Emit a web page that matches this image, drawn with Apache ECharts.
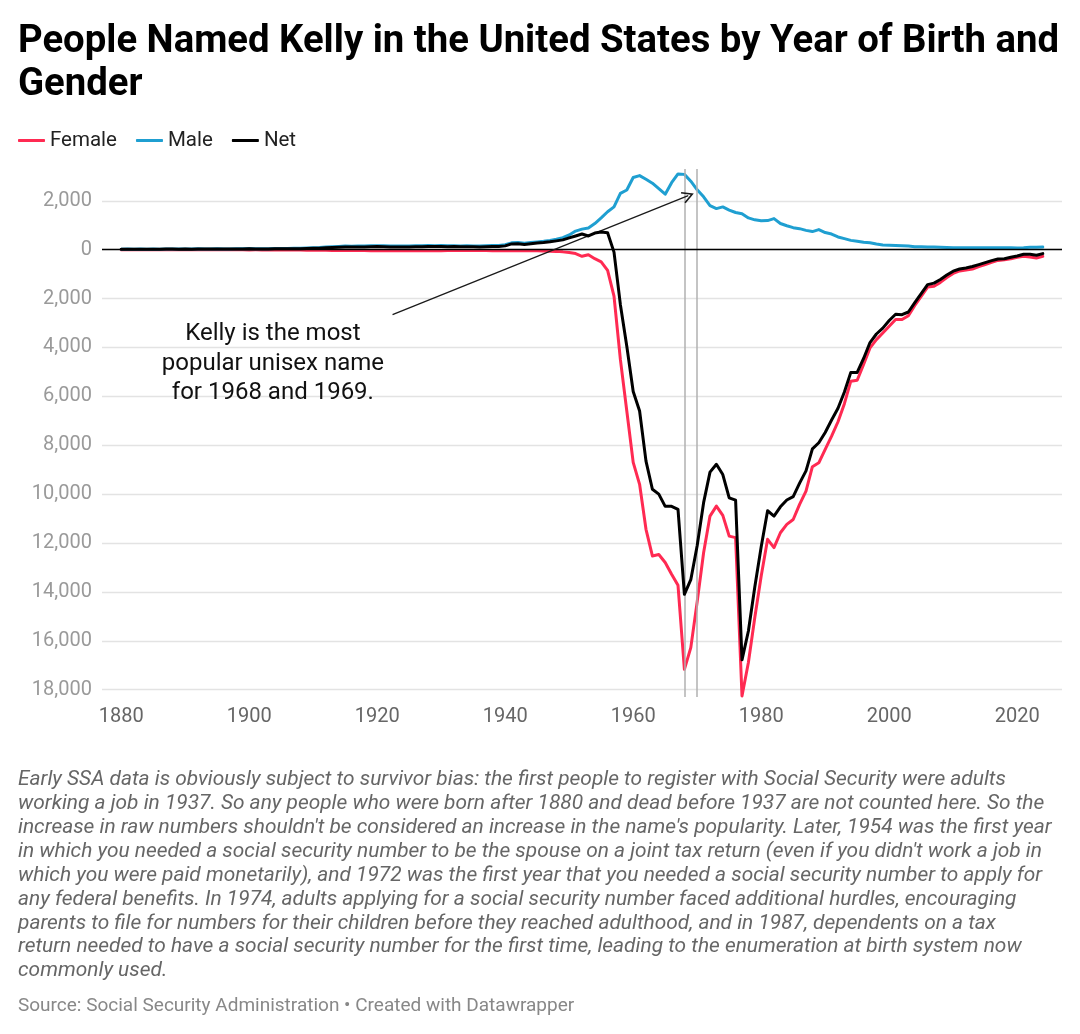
<!DOCTYPE HTML>
<html>
    <head>
        <meta charset="UTF-8">
        <title>People Named Kelly</title>
        <style>
            html,body{margin:0;padding:0;width:100%;height:100%;background:#fff;}
            #wrap{width:1080px;height:1034px;}
        </style>
    </head>
    <body>
        <div id="wrap"></div>

        <script src="https://cdn.jsdelivr.net/npm/echarts@6/dist/echarts.min.js"></script>
        <script>
            // values, 1880 .. 2024
            let firstYear = 1880;

            let male = [
                20,25,20,25,20,25,20,30,30,25,
                30,25,35,30,30,35,30,30,40,35,
                50,35,40,40,45,45,50,55,60,65,
                75,85,105,120,130,145,140,150,145,160,
                165,160,150,150,155,150,160,165,170,165,
                170,160,165,155,160,155,150,160,170,175,
                200,280,290,260,290,315,340,380,430,490,
                600,760,840,890,1070,1300,1550,1750,2300,2440,
                2950,3030,2880,2720,2500,2270,2740,3100,3080,2800,
                2450,2160,1800,1680,1750,1620,1520,1470,1300,1220,
                1180,1190,1270,1070,980,900,860,790,740,820,
                700,640,520,450,380,340,300,280,230,190,
                180,170,165,150,120,115,110,110,100,90,
                80,80,80,75,75,75,75,75,75,80,
                70,80,100,100,110
            ];

            let female = [
                -5,-5,-6,-5,-5,-6,-5,-6,-6,-5,
                -6,-5,-6,-6,-6,-7,-6,-7,-8,-8,
                -10,-8,-10,-10,-12,-12,-14,-15,-18,-20,
                -22,-25,-28,-30,-32,-35,-35,-36,-38,-40,
                -40,-42,-40,-40,-42,-40,-40,-42,-42,-40,
                -40,-38,-38,-36,-36,-35,-36,-38,-40,-42,
                -45,-45,-45,-45,-45,-40,-50,-60,-70,-90,
                -120,-160,-270,-210,-370,-500,-850,-1900,-4500,-6600,
                -8700,-9600,-11440,-12530,-12470,-12800,-13280,-13730,-17170,-16280,
                -14400,-12400,-10900,-10490,-10870,-11720,-11780,-18260,-16890,-15050,
                -13350,-11850,-12190,-11580,-11240,-11040,-10420,-9880,-8880,-8720,
                -8170,-7630,-7040,-6300,-5380,-5340,-4700,-4020,-3680,-3410,
                -3130,-2860,-2860,-2700,-2280,-1910,-1530,-1500,-1340,-1140,
                -970,-870,-830,-790,-690,-610,-520,-440,-410,-370,
                -310,-270,-300,-340,-270
            ];

            let net = [
                15,20,14,20,15,19,15,24,24,20,
                24,20,29,24,24,28,24,23,32,27,
                40,27,30,30,33,33,36,40,42,45,
                53,60,77,90,98,110,105,114,107,120,
                125,118,110,110,113,110,120,123,128,125,
                130,122,127,119,124,120,114,122,130,133,
                155,235,245,215,245,275,290,320,360,400,
                480,560,640,560,680,720,690,-100,-2250,-3950,
                -5800,-6600,-8650,-9800,-10000,-10500,-10500,-10620,-14100,-13500,
                -12100,-10350,-9100,-8780,-9200,-10150,-10250,-16780,-15600,-13800,
                -12150,-10680,-10900,-10520,-10240,-10100,-9550,-9050,-8150,-7900,
                -7480,-6970,-6490,-5820,-5020,-5020,-4450,-3800,-3450,-3210,
                -2900,-2640,-2660,-2550,-2170,-1800,-1430,-1370,-1220,-1040,
                -880,-790,-750,-690,-610,-530,-450,-380,-370,-310,
                -260,-190,-190,-230,-160
            ];

            let seriesNames = ['Female', 'Male', 'Net'];
            let seriesColors = ['#ff2a52', '#1f9fd1', '#000000'];

            // the two years the note talks about
            let markYears = [1968, 1970];
            // arrow from the note to the peak, in [year, value]
            let arrowFrom = [1922.4, -2660],
                arrowTo = [1968.6, 2210];
            let notePos = [1903.7, -4660];
            let noteText = 'Kelly is the most\npopular unisex name\nfor 1968 and 1969.';

            let titleText = 'People Named Kelly in the United States by Year of Birth and\nGender';
            let footText = [
                "Early SSA data is obviously subject to survivor bias: the first people to register with Social Security were adults",
                "working a job in 1937. So any people who were born after 1880 and dead before 1937 are not counted here. So the",
                "increase in raw numbers shouldn't be considered an increase in the name's popularity. Later, 1954 was the first year",
                "in which you needed a social security number to be the spouse on a joint tax return (even if you didn't work a job in",
                "which you were paid monetarily), and 1972 was the first year that you needed a social security number to apply for",
                "any federal benefits. In 1974, adults applying for a social security number faced additional hurdles, encouraging",
                "parents to file for numbers for their children before they reached adulthood, and in 1987, dependents on a tax",
                "return needed to have a social security number for the first time, leading to the enumeration at birth system now",
                "commonly used."
            ].join('\n');
            let sourceText = 'Source: Social Security Administration \u2022 Created with Datawrapper';

            function pairs(arr){
                return arr.map((v, i) => [firstYear + i, v]);
            }

            let wrap = document.getElementById('wrap');
            let mycharts = echarts.init(wrap);
            let font = 'Roboto, "Noto Sans", sans-serif';

            let lines = [female, male, net].map((arr, i) => ({
                name: seriesNames[i],
                type: 'line',
                data: pairs(arr),
                showSymbol: false,
                symbol: 'none',
                z: 3 + i,
                lineStyle: {color: seriesColors[i], width: 3, cap: 'round', join: 'round'},
                itemStyle: {color: seriesColors[i]},
                emphasis: {disabled: true}
            }));

            // reference lines and notes sit on their own series
            let notes = {
                name: 'notes',
                type: 'line',
                data: [],
                z: 1,
                silent: true,
                markLine: {
                    silent: true,
                    symbol: 'none',
                    label: {show: false},
                    animation: false,
                    data: markYears.map(y => ({xAxis: y, lineStyle: {color: '#b0b0b0', width: 1.5, type: 'solid'}}))
                }
            };
            let zeroLine = {
                name: 'zero',
                type: 'line',
                data: [],
                z: 2,
                silent: true,
                markLine: {
                    silent: true,
                    symbol: 'none',
                    label: {show: false},
                    animation: false,
                    data: [{yAxis: 0, lineStyle: {color: '#000', width: 1.3, type: 'solid'}}]
                }
            };
            let arrow = {
                name: 'arrow',
                type: 'line',
                data: [],
                z: 7,
                silent: true,
                markLine: {
                    silent: true,
                    symbol: ['none', 'path://M5,0L10,9L8.9,9.7L5,2.7L1.1,9.7L0,9Z'],
                    symbolSize: 12,
                    label: {show: false},
                    animation: false,
                    lineStyle: {color: '#1a1a1a', width: 1.3, type: 'solid'},
                    data: [[{coord: arrowFrom}, {coord: arrowTo}]]
                },
                markPoint: {
                    silent: true,
                    animation: false,
                    symbol: 'circle',
                    symbolSize: 1,
                    itemStyle: {color: 'rgba(0,0,0,0)'},
                    label: {
                        show: true,
                        position: 'inside',
                        formatter: noteText,
                        fontFamily: font,
                        fontSize: 24,
                        lineHeight: 29.5,
                        color: '#111',
                        align: 'center'
                    },
                    data: [{coord: notePos}]
                }
            };

            let options = {
                backgroundColor: '#fff',
                animation: false,
                textStyle: {fontFamily: font},
                title: [{
                    text: titleText,
                    left: 18,
                    top: 21,
                    padding: 0,
                    textStyle: {fontSize: 38.3, fontWeight: 'bold', color: '#000', lineHeight: 43, fontFamily: font}
                }, {
                    text: footText,
                    left: 18,
                    top: 768,
                    padding: 0,
                    textStyle: {fontSize: 20.9, fontStyle: 'italic', fontWeight: 'normal', color: '#666', lineHeight: 23.9, fontFamily: font}
                }, {
                    text: sourceText,
                    left: 18,
                    top: 997,
                    padding: 0,
                    textStyle: {fontSize: 19, fontWeight: 'normal', color: '#888', fontFamily: font}
                }],
                legend: {
                    left: 18,
                    top: 130,
                    padding: 0,
                    data: seriesNames,
                    icon: 'roundRect',
                    itemWidth: 27,
                    itemHeight: 3,
                    itemGap: 19,
                    selectedMode: false,
                    textStyle: {fontSize: 20.5, color: '#222', fontFamily: font}
                },
                grid: {left: 102, right: 18, top: 169, bottom: 337},
                xAxis: {
                    type: 'value',
                    min: 1877,
                    max: 2027,
                    splitNumber: 7,
                    axisLine: {show: false},
                    axisTick: {show: false},
                    splitLine: {show: false},
                    axisLabel: {
                        showMinLabel: false,
                        showMaxLabel: false,
                        margin: 10,
                        fontSize: 20,
                        color: '#666',
                        fontFamily: font,
                        formatter: v => String(v)
                    }
                },
                yAxis: {
                    type: 'value',
                    min: -18300,
                    max: 3300,
                    splitNumber: 10,
                    axisLine: {show: false},
                    axisTick: {show: false},
                    splitLine: {
                        showMinLine: false,
                        showMaxLine: false,
                        lineStyle: {color: '#e3e3e3', width: 1.3}
                    },
                    axisLabel: {
                        showMinLabel: false,
                        showMaxLabel: false,
                        margin: 10,
                        fontSize: 20,
                        color: '#9a9a9a',
                        fontFamily: font,
                        formatter: v => Math.abs(v).toLocaleString('en-US')
                    }
                },
                series: [notes, zeroLine].concat(lines, [arrow])
            };

            mycharts.setOption(options);
        </script>
    </body>
</html>
